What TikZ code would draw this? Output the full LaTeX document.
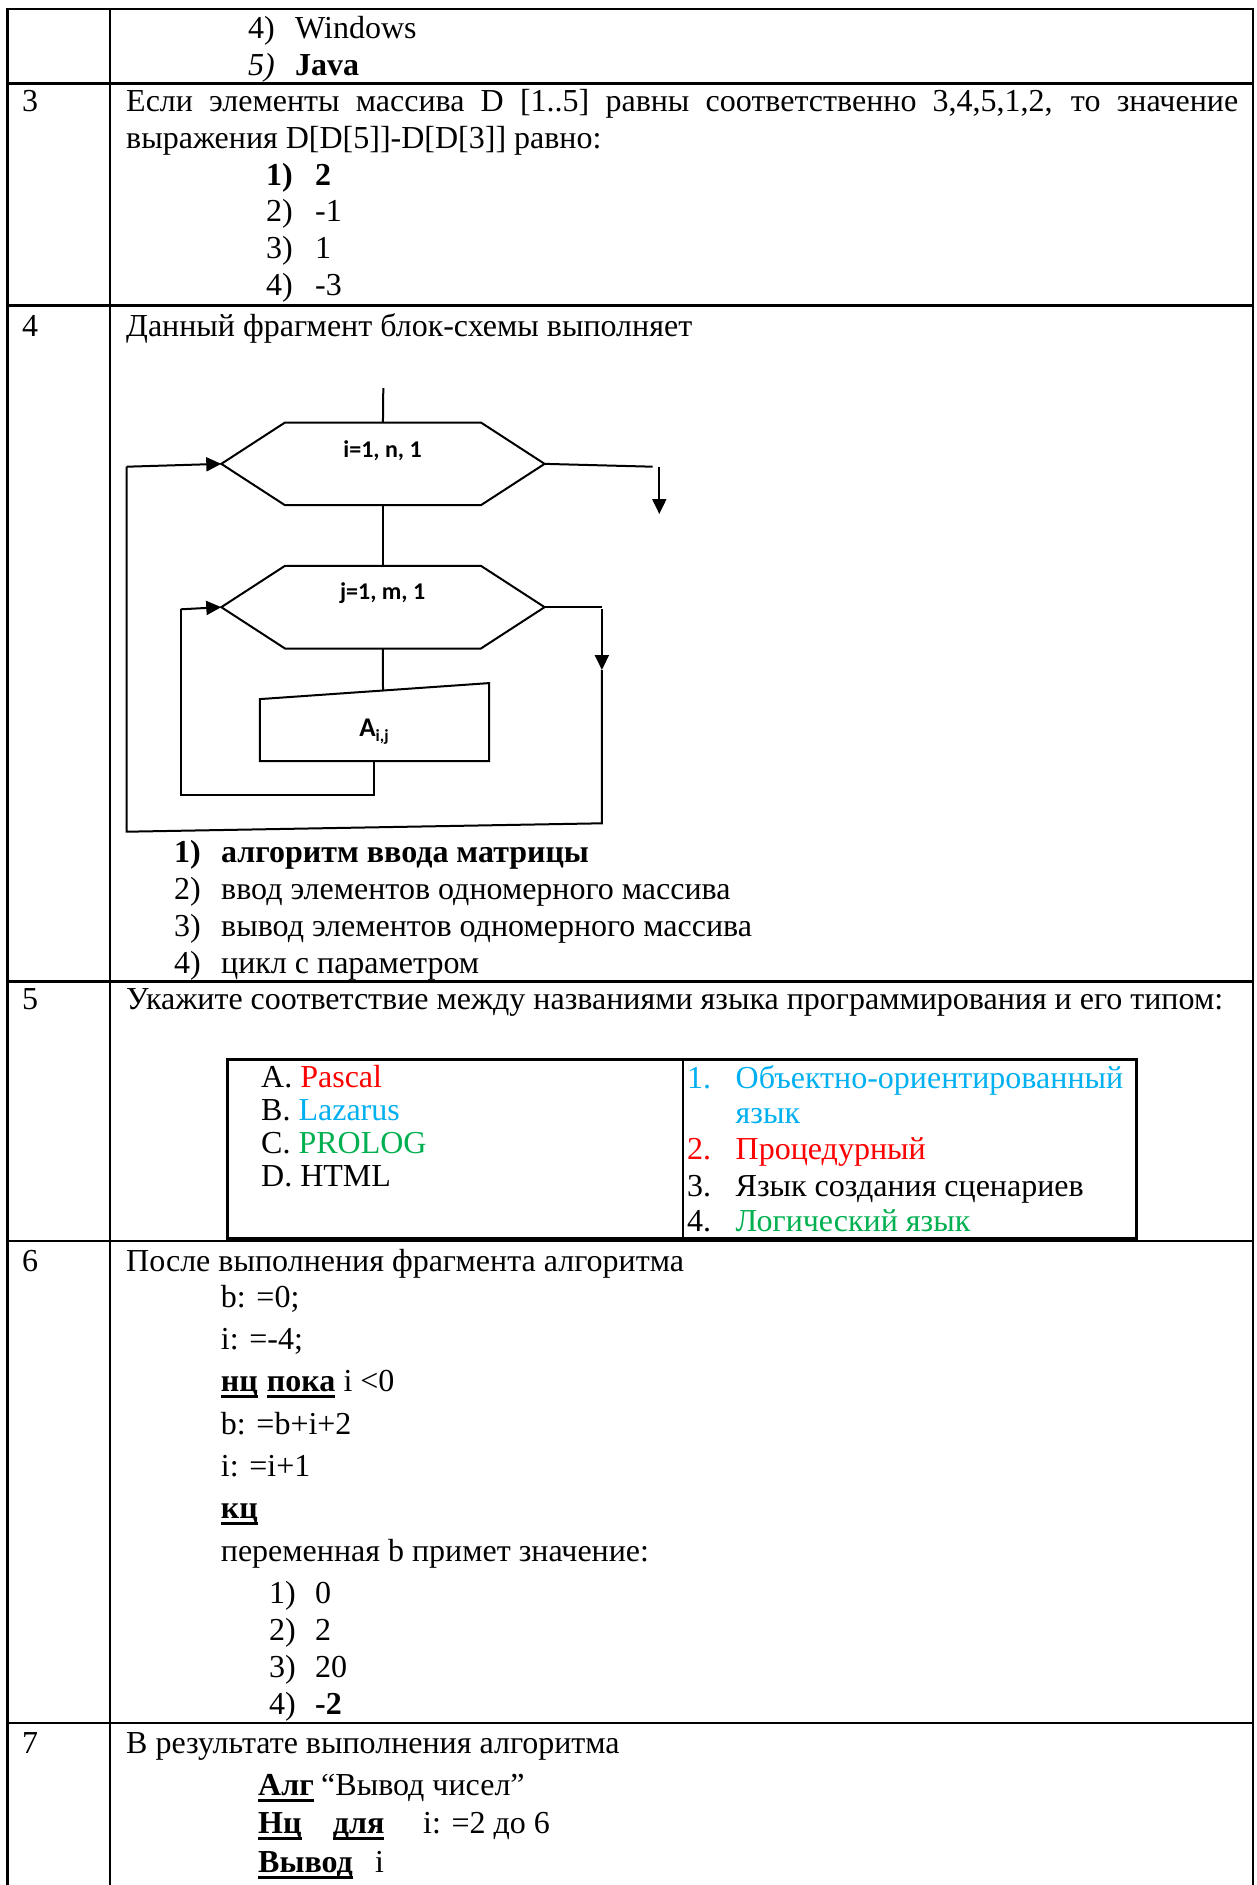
\documentclass[tikz,border=0pt]{standalone}
\usepackage{fontspec}
\setmainfont{Liberation Serif}
\newfontfamily\flowfont{Carlito}
\usetikzlibrary{arrows.meta}
\definecolor{xred}{RGB}{255,0,0}
\definecolor{xblue}{RGB}{0,176,240}
\definecolor{xgreen}{RGB}{0,176,80}
\newcommand\ulbf[1]{\setbox0\hbox{\bfseries #1}\rlap{\rule[-6.5pt]{\wd0}{3pt}}\box0}
\begin{document}
\begin{tikzpicture}[x=1pt,y=-1pt,
  txt/.style={anchor=base west, inner sep=0pt, font=\fontsize{32}{37}\selectfont},
  grid/.style={line width=2.4pt},
  fl/.style={line width=2pt},
  arr/.style={fl,-{Triangle[length=15pt,width=14pt]}},
  lbl/.style={inner sep=0pt, font=\flowfont\bfseries\fontsize{24}{26}\selectfont},
  box/.style={inner sep=0pt, draw=none}]
\useasboundingbox (0,0) rectangle (1257,1885);
\fill[white] (0,0) rectangle (1257,1885);
% outer table
\draw[grid] (7.3,7.8) -- (7.3,1885);
\draw[grid] (110,9) -- (110,1885);
\draw[grid] (1252.7,7.8) -- (1252.7,1885);
\foreach \yy in {9,83.3,305.3,981.3,1241,1722.7}
  \draw[grid] (7.3,\yy) -- (1252.7,\yy);
% row 2
\node[txt] (r2n4) at (248,38) {4)};
\node[txt] (r2t4) at (295,38) {Windows};
\node[txt] (r2n5) at (248,75) {\itshape 5)};
\node[txt] (r2t5) at (295,75) {\bfseries Java};
% row 3
\node[txt] (n3) at (22,111) {3};
\node[txt] (q3a) at (126,111) {\makebox[1112pt][s]{Если элементы массива D [1..5] равны соответственно 3,4,5,1,2, то значение}};
\node[txt] (q3b) at (126,148) {выражения D[D[5]]-D[D[3]] равно:};
\node[txt] (a3n1) at (266,185) {\bfseries 1)};
\node[txt] (a3t1) at (315,185) {\bfseries 2};
\node[txt] (a3n2) at (266,221.5) {2)};
\node[txt] (a3t2) at (315,221.5) {-1};
\node[txt] (a3n3) at (266,258) {3)};
\node[txt] (a3t3) at (315,258) {1};
\node[txt] (a3n4) at (266,295) {4)};
\node[txt] (a3t4) at (315,295) {-3};
% row 4
\node[txt] (n4) at (22,336) {4};
\node[txt] (q4) at (126,336) {Данный фрагмент блок-схемы выполняет};
\node[txt] (a4n1) at (174,862) {\bfseries 1)};
\node[txt] (a4t1) at (221,862) {\bfseries алгоритм ввода матрицы};
\node[txt] (a4n2) at (174,899) {2)};
\node[txt] (a4t2) at (221,899) {ввод элементов одномерного массива};
\node[txt] (a4n3) at (174,936) {3)};
\node[txt] (a4t3) at (221,936) {вывод элементов одномерного массива};
\node[txt] (a4n4) at (174,973) {4)};
\node[txt] (a4t4) at (221,973) {цикл с параметром};
% flowchart
\coordinate (top) at (383.3,388);
\node[box, minimum width=322.9pt, minimum height=82.3pt] (h1) at (382.95,463.85) {};
\draw[fl] (h1.west) -- ([xshift=63.7pt]h1.north west) -- ([xshift=-63.7pt]h1.north east) -- (h1.east) -- ([xshift=-63.7pt]h1.south east) -- ([xshift=63.7pt]h1.south west) -- cycle;
\node[lbl] (h1t) at (382.6,451) {i=1, n, 1};
\node[box, minimum width=322.9pt, minimum height=82.3pt] (h2) at (382.95,607.15) {};
\draw[fl] (h2.west) -- ([xshift=63.7pt]h2.north west) -- ([xshift=-63.7pt]h2.north east) -- (h2.east) -- ([xshift=-63.7pt]h2.south east) -- ([xshift=63.7pt]h2.south west) -- cycle;
\node[lbl] (h2t) at (382.6,593) {j=1, m, 1};
\node[box, minimum width=228.9pt, minimum height=77.7pt] (b1) at (374.45,722.15) {};
\draw[fl] (b1.south west) -- ([yshift=-16pt]b1.north west) -- (b1.north east) -- (b1.south east) -- cycle;
\node[inner sep=0pt, font=\flowfont\bfseries] (b1t) at (374,731.7) {\fontsize{27}{27}\selectfont A\raisebox{-5pt}{\fontsize{17}{17}\selectfont i,j}};
\coordinate (e1) at (652.6,466.7);
\coordinate (e2) at (659.3,467);
\coordinate (e3) at (659.3,514);
\coordinate (b1top) at (383,691);
\coordinate (c1) at (601.9,607.15);
\coordinate (c1b) at (601.9,609);
\coordinate (c2) at (601.9,670);
\coordinate (c3) at (601.9,823.3);
\coordinate (c4) at (126.7,831.7);
\coordinate (c5) at (126.7,466.7);
\coordinate (d1) at (374.45,795);
\coordinate (d2) at (180.7,795);
\coordinate (d3) at (180.7,609.3);
\draw[fl] (top) -- (h1.north);
\draw[fl] (h1.south) -- (h2.north);
\draw[fl] (h1.east) -- (e1);
\draw[arr] (e2) -- (e3);
\draw[fl] (h2.south) -- (b1top);
\draw[fl] (h2.east) -- (c1);
\draw[arr] (c1b) -- (c2);
\draw[fl] (c2) -- (c3) -- (c4) -- (c5);
\draw[arr] (c5) -- (h1.west);
\draw[fl] (b1.south) -- (d1) -- (d2) -- (d3);
\draw[arr] (d3) -- (h2.west);
% row 5
\node[txt] (n5) at (22,1009) {5};
\node[txt] (q5) at (126,1009) {Укажите соответствие между названиями языка программирования и его типом:};
\draw[line width=3pt] (227,1059) rectangle (1136.8,1238);
\draw[line width=2pt] (682.6,1059) -- (682.6,1238);
\node[txt] (lA) at (261,1087) {A. {\color{xred}Pascal}};
\node[txt] (lB) at (261,1120) {B. {\color{xblue}Lazarus}};
\node[txt] (lC) at (261,1153) {C. {\color{xgreen}PROLOG}};
\node[txt] (lD) at (261,1186) {D. HTML};
\node[txt, text=xblue] (rn1) at (687,1088) {1.};
\node[txt, text=xblue] (rt1) at (735.5,1088) {Объектно-ориентированный};
\node[txt, text=xblue] (rt1b) at (735.5,1123) {язык};
\node[txt, text=xred] (rn2) at (687,1159) {2.};
\node[txt, text=xred] (rt2) at (735.5,1159) {Процедурный};
\node[txt] (rn3) at (687,1196) {3.};
\node[txt] (rt3) at (735.5,1196) {Язык создания сценариев};
\node[txt] (rn4) at (687,1231) {4.};
\node[txt, text=xgreen] (rt4) at (735.5,1231) {Логический язык};
% row 6
\node[txt] (n6) at (22,1271) {6};
\node[txt] (q6) at (126,1271) {После выполнения фрагмента алгоритма};
\node[txt] (c6a) at (220.7,1307) {b: =0;};
\node[txt] (c6b) at (220.7,1349) {i: =-4;};
\node[txt] (c6c) at (220.7,1391.5) {\ulbf{нц}};
\node[txt] (c6d) at (266.7,1391.5) {\ulbf{пока}};
\node[txt] (c6e) at (343.3,1391.5) {i <0};
\node[txt] (c6f) at (220.7,1434) {b: =b+i+2};
\node[txt] (c6g) at (220.7,1476) {i: =i+1};
\node[txt] (c6h) at (220.7,1518.5) {\ulbf{кц}};
\node[txt] (c6i) at (220.7,1561) {переменная b примет значение:};
\node[txt] (a6n1) at (269,1603) {1)};
\node[txt] (a6t1) at (315,1603) {0};
\node[txt] (a6n2) at (269,1640) {2)};
\node[txt] (a6t2) at (315,1640) {2};
\node[txt] (a6n3) at (269,1677) {3)};
\node[txt] (a6t3) at (315,1677) {20};
\node[txt] (a6n4) at (269,1714) {4)};
\node[txt] (a6t4) at (315,1714) {\bfseries -2};
% row 7
\node[txt] (n7) at (22,1753) {7};
\node[txt] (q7) at (126,1753) {В результате выполнения алгоритма};
\node[txt] (c7a) at (258,1795) {\ulbf{Алг}};
\node[txt] (c7b) at (321,1795) {“Вывод чисел”};
\node[txt] (c7c) at (258,1833) {\ulbf{Нц}};
\node[txt] (c7d) at (332.7,1833) {\ulbf{для}};
\node[txt] (c7e) at (423,1833) {i: =2 до 6};
\node[txt] (c7f) at (258,1872) {\ulbf{Вывод}};
\node[txt] (c7g) at (375,1872) {i};
\end{tikzpicture}
\end{document}
